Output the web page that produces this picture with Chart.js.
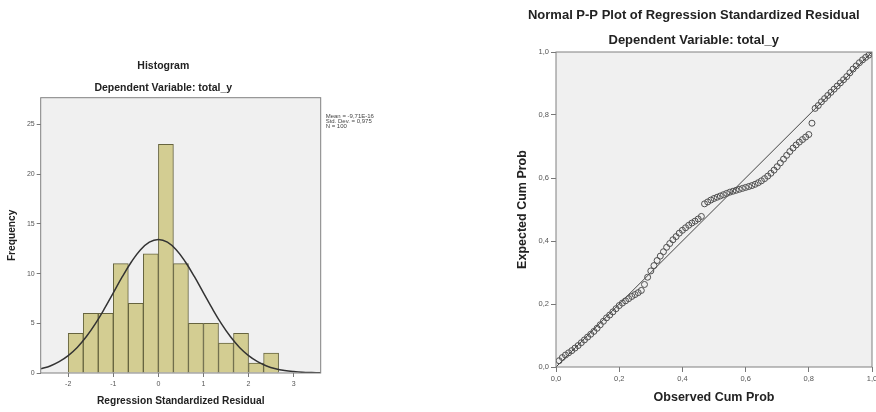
<!DOCTYPE html>
<html>
<head>
<meta charset="utf-8">
<script src="https://cdn.jsdelivr.net/npm/chart.js@4"></script>
<style>
  html, body { margin: 0; padding: 0; background: #fff; overflow: hidden; }
  body { width: 876px; height: 412px; position: relative; }
  #histChart { position: absolute; left: 0; top: 0; }
  #ppChart { position: absolute; left: 500px; top: 0; }
</style>
</head>
<body>
<canvas id="histChart" width="428" height="412"></canvas>
<canvas id="ppChart" width="385" height="412"></canvas>
<script>
// histogram of standardized residuals (bins of width 1/3)
const binCenters = [-1.833, -1.5, -1.167, -0.833, -0.5, -0.167, 0.167, 0.5, 0.833, 1.167, 1.5, 1.833, 2.167, 2.5];
const binCounts = [4, 6, 6, 11, 7, 12, 23, 11, 5, 5, 3, 4, 1, 2];

// normal curve
const curveX = [-2.6, -2.4, -2.2, -2.0, -1.8, -1.6, -1.4, -1.2, -1.0, -0.8, -0.6, -0.4, -0.2, 0,
  0.2, 0.4, 0.6, 0.8, 1.0, 1.2, 1.4, 1.6, 1.8, 2.0, 2.2, 2.4, 2.6, 2.8, 3.0, 3.2, 3.4, 3.6];
const curveY = [0.43, 0.71, 1.14, 1.75, 2.57, 3.64, 4.94, 6.44, 8.06, 9.69, 11.17, 12.38, 13.16, 13.43,
  13.16, 12.38, 11.17, 9.69, 8.06, 6.44, 4.94, 3.64, 2.57, 1.75, 1.14, 0.71, 0.43, 0.25, 0.14, 0.07, 0.04, 0.02];

const histXTicks = [-2, -1, 0, 1, 2, 3];
const histYTicks = [0, 5, 10, 15, 20, 25];
const statsLines = ['Mean = -9,71E-16', 'Std. Dev. = 0,975', 'N = 100'];

// P-P plot
const observedCum = [0.01, 0.02, 0.03, 0.04, 0.05, 0.06, 0.07, 0.08, 0.09, 0.10,
  0.11, 0.12, 0.13, 0.14, 0.15, 0.16, 0.17, 0.18, 0.19, 0.20,
  0.21, 0.22, 0.23, 0.24, 0.25, 0.26, 0.27, 0.28, 0.29, 0.30,
  0.31, 0.32, 0.33, 0.34, 0.35, 0.36, 0.37, 0.38, 0.39, 0.40,
  0.41, 0.42, 0.43, 0.44, 0.45, 0.46, 0.47, 0.48, 0.49, 0.50,
  0.51, 0.52, 0.53, 0.54, 0.55, 0.56, 0.57, 0.58, 0.59, 0.60,
  0.61, 0.62, 0.63, 0.64, 0.65, 0.66, 0.67, 0.68, 0.69, 0.70,
  0.71, 0.72, 0.73, 0.74, 0.75, 0.76, 0.77, 0.78, 0.79, 0.80,
  0.81, 0.82, 0.83, 0.84, 0.85, 0.86, 0.87, 0.88, 0.89, 0.90,
  0.91, 0.92, 0.93, 0.94, 0.95, 0.96, 0.97, 0.98, 0.99, 1.00];
const expectedCum = [0.020, 0.030, 0.038, 0.045, 0.052, 0.060, 0.068, 0.077, 0.086, 0.095,
  0.104, 0.113, 0.123, 0.134, 0.145, 0.156, 0.165, 0.175, 0.185, 0.195,
  0.203, 0.210, 0.217, 0.224, 0.230, 0.236, 0.243, 0.262, 0.285, 0.305,
  0.322, 0.338, 0.352, 0.366, 0.380, 0.392, 0.404, 0.414, 0.425, 0.434,
  0.442, 0.450, 0.457, 0.463, 0.470, 0.478, 0.518, 0.524, 0.530, 0.535,
  0.539, 0.543, 0.547, 0.551, 0.555, 0.558, 0.561, 0.564, 0.567, 0.570,
  0.573, 0.576, 0.580, 0.585, 0.591, 0.598, 0.606, 0.615, 0.625, 0.636,
  0.648, 0.660, 0.672, 0.684, 0.695, 0.705, 0.714, 0.722, 0.730, 0.738,
  0.774, 0.821, 0.830, 0.842, 0.852, 0.862, 0.872, 0.882, 0.892, 0.902,
  0.912, 0.922, 0.934, 0.946, 0.956, 0.966, 0.975, 0.983, 0.990, 0.996];
const refLine = [0, 1];
const ppTicks = [0, 0.2, 0.4, 0.6, 0.8, 1];
const ppTickLabels = ['0,0', '0,2', '0,4', '0,6', '0,8', '1,0'];

Chart.defaults.font.family = '"Liberation Sans", Arial, sans-serif';
Chart.defaults.animation = false;

// grey plot background + frame, like SPSS
const plotFrame = {
  id: 'plotFrame',
  beforeDraw(chart) {
    const a = chart.chartArea, ctx = chart.ctx;
    ctx.save();
    ctx.fillStyle = '#f0f0f0';
    ctx.fillRect(a.left, a.top, a.right - a.left, a.bottom - a.top);
    ctx.restore();
  },
  afterDraw(chart) {
    const a = chart.chartArea, ctx = chart.ctx;
    ctx.save();
    ctx.strokeStyle = '#808080';
    ctx.lineWidth = 1;
    ctx.strokeRect(a.left, a.top, a.right - a.left, a.bottom - a.top);
    ctx.restore();
  }
};

const statsText = {
  id: 'statsText',
  afterDraw(chart) {
    const ctx = chart.ctx;
    ctx.save();
    ctx.fillStyle = '#444';
    ctx.font = '6px "Liberation Sans", Arial, sans-serif';
    ctx.textBaseline = 'middle';
    statsLines.forEach((t, i) => ctx.fillText(t, chart.chartArea.right + 5, 116 + i * 5));
    ctx.restore();
  }
};

const tickGrid = { display: true, drawOnChartArea: false, drawTicks: true, tickLength: 4, color: '#777', offset: false };

new Chart(document.getElementById('histChart'), {
  type: 'bar',
  data: {
    datasets: [
      {
        type: 'line',
        data: curveX.map((x, i) => ({ x: x, y: curveY[i] })),
        borderColor: '#333',
        borderWidth: 1.5,
        pointRadius: 0,
        tension: 0.4,
        order: 0
      },
      {
        type: 'bar',
        data: binCenters.map((x, i) => ({ x: x, y: binCounts[i] })),
        backgroundColor: '#d3cd92',
        borderColor: '#66643f',
        borderWidth: 1,
        barPercentage: 1,
        categoryPercentage: 1,
        grouped: false,
        order: 1
      }
    ]
  },
  options: {
    responsive: false,
    layout: { padding: { top: 0, left: 5.9, right: 107.3, bottom: 4.9 } },
    scales: {
      x: {
        type: 'linear', min: -2.61, max: 3.6, offset: false,
        afterBuildTicks: s => { s.ticks = histXTicks.map(v => ({ value: v })); },
        afterFit: s => { s.height = 34.1; },
        grid: tickGrid,
        border: { display: false },
        ticks: { color: '#555', font: { size: 7 }, padding: 3, maxRotation: 0, autoSkip: false },
        title: { display: true, text: 'Regression Standardized Residual', color: '#222', font: { size: 10.2, weight: 'bold' }, padding: 0 }
      },
      y: {
        min: 0, max: 27.7,
        afterBuildTicks: s => { s.ticks = histYTicks.map(v => ({ value: v })); },
        afterFit: s => { s.width = 34.8; },
        grid: tickGrid,
        border: { display: false },
        ticks: { color: '#555', font: { size: 7 }, padding: 2, autoSkip: false },
        title: { display: true, text: 'Frequency', color: '#222', font: { size: 10.2, weight: 'bold' }, padding: 0 }
      }
    },
    plugins: {
      legend: { display: false },
      tooltip: { enabled: false },
      title: { display: true, text: 'Histogram', color: '#222', font: { size: 10.5, weight: 'bold' }, padding: { top: 59.7, bottom: 0 } },
      subtitle: { display: true, text: 'Dependent Variable: total_y', color: '#222', font: { size: 10.5, weight: 'bold' }, padding: { top: 9.4, bottom: 3.4 } }
    }
  },
  plugins: [plotFrame, statsText]
});

new Chart(document.getElementById('ppChart'), {
  type: 'scatter',
  data: {
    datasets: [
      {
        type: 'line',
        data: refLine.map(v => ({ x: v, y: v })),
        borderColor: '#444',
        borderWidth: 1,
        pointRadius: 0,
        order: 1
      },
      {
        data: observedCum.map((x, i) => ({ x: x, y: expectedCum[i] })),
        pointStyle: 'circle',
        pointRadius: 3,
        backgroundColor: 'rgba(0,0,0,0)',
        borderColor: '#505050',
        borderWidth: 1,
        order: 0
      }
    ]
  },
  options: {
    responsive: false,
    layout: { padding: { top: 0, left: 15.5, right: 13, bottom: 6.5 } },
    scales: {
      x: {
        type: 'linear', min: 0, max: 1,
        afterBuildTicks: s => { s.ticks = ppTicks.map(v => ({ value: v })); },
        afterFit: s => { s.height = 38.5; },
        grid: { ...tickGrid, tickLength: 5 },
        border: { display: false },
        ticks: { color: '#555', font: { size: 7.5 }, padding: 2, maxRotation: 0, autoSkip: false,
          callback: (v, i) => ppTickLabels[i] },
        title: { display: true, text: 'Observed Cum Prob', color: '#222', font: { size: 12.5, weight: 'bold' }, padding: 0 }
      },
      y: {
        type: 'linear', min: 0, max: 1,
        afterBuildTicks: s => { s.ticks = ppTicks.map(v => ({ value: v })); },
        afterFit: s => { s.width = 40.5; },
        grid: { ...tickGrid, tickLength: 5 },
        border: { display: false },
        ticks: { color: '#555', font: { size: 7.5 }, padding: 2, autoSkip: false,
          callback: (v, i) => ppTickLabels[i] },
        title: { display: true, text: 'Expected Cum Prob', color: '#222', font: { size: 12.5, weight: 'bold' }, padding: 0 }
      }
    },
    plugins: {
      legend: { display: false },
      tooltip: { enabled: false },
      title: { display: true, text: 'Normal P-P Plot of Regression Standardized Residual', color: '#222', font: { size: 13, weight: 'bold' }, padding: { top: 7.2, bottom: 0 } },
      subtitle: { display: true, text: 'Dependent Variable: total_y', color: '#222', font: { size: 13, weight: 'bold' }, padding: { top: 9.4, bottom: 4.2 } }
    }
  },
  plugins: [plotFrame]
});
</script>
</body>
</html>
